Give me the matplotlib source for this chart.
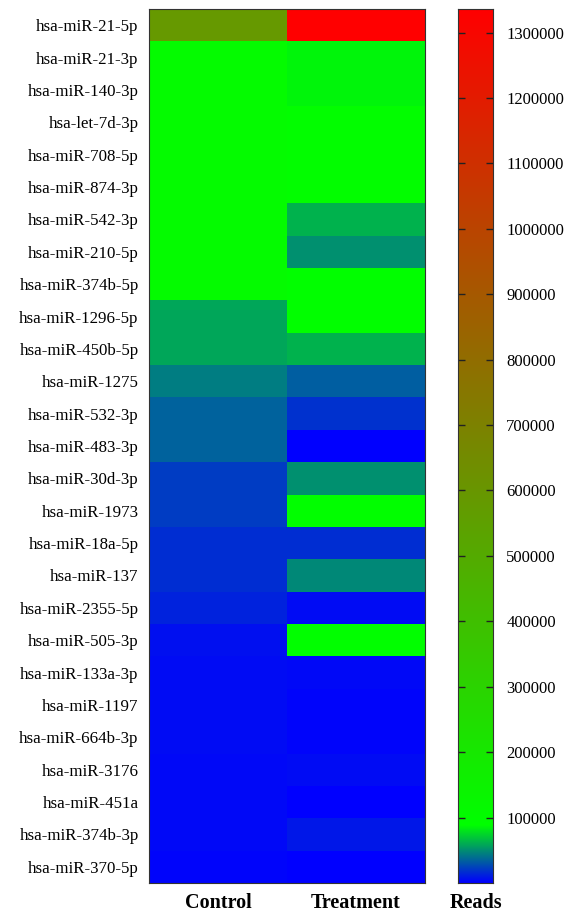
import numpy as np
import matplotlib.pyplot as plt
from matplotlib.colors import LinearSegmentedColormap, Normalize
from matplotlib.ticker import FixedLocator, FuncFormatter

plt.rcParams['font.family'] = ['Liberation Serif', 'DejaVu Serif']

mirnas = ['hsa-miR-21-5p', 'hsa-miR-21-3p', 'hsa-miR-140-3p', 'hsa-let-7d-3p',
          'hsa-miR-708-5p', 'hsa-miR-874-3p', 'hsa-miR-542-3p', 'hsa-miR-210-5p',
          'hsa-miR-374b-5p', 'hsa-miR-1296-5p', 'hsa-miR-450b-5p', 'hsa-miR-1275',
          'hsa-miR-532-3p', 'hsa-miR-483-3p', 'hsa-miR-30d-3p', 'hsa-miR-1973',
          'hsa-miR-18a-5p', 'hsa-miR-137', 'hsa-miR-2355-5p', 'hsa-miR-505-3p',
          'hsa-miR-133a-3p', 'hsa-miR-1197', 'hsa-miR-664b-3p', 'hsa-miR-3176',
          'hsa-miR-451a', 'hsa-miR-374b-3p', 'hsa-miR-370-5p']
groups = ['Control', 'Treatment']

control = [585000, 110000, 110000, 110000, 110000, 110000, 110000, 110000,
           110000, 58000, 58000, 44000, 34000, 34000, 22000, 22000,
           16000, 16000, 12000, 6000, 5000, 4500, 4500, 3500,
           3500, 3000, 2500]
treatment = [1335000, 85000, 85000, 100000, 100000, 100000, 62000, 50000,
             95000, 95000, 62000, 33000, 17000, 500, 50000, 95000,
             16000, 47000, 5000, 95000, 3000, 1500, 1500, 5000,
             1000, 8000, 1000]

cbar_ticks = [100000, 200000, 300000, 400000, 500000, 600000, 700000,
              800000, 900000, 1000000, 1100000, 1200000, 1300000]

vmin, vmax = 0, 1336000
cmap = LinearSegmentedColormap.from_list(
    'reads', [(0.0, '#0000ff'), (0.066, '#00ff00'), (1.0, '#ff0000')], N=1024)
norm = Normalize(vmin=vmin, vmax=vmax)

W, H = 571, 915
fig = plt.figure(figsize=(W / 100, H / 100), dpi=100)

ax = fig.add_axes([149 / W, (H - 883) / H, (425 - 149) / W, (883 - 9) / H])
data = np.column_stack([control, treatment])
ax.pcolormesh(np.arange(3), np.arange(len(mirnas) + 1), data, cmap=cmap, norm=norm)
ax.set_xlim(0, 2)
ax.set_ylim(len(mirnas), 0)
ax.set_yticks(np.arange(len(mirnas)) + 0.5)
ax.set_yticklabels(mirnas, fontsize=12.2)
ax.set_xticks(np.arange(2) + 0.5)
ax.set_xticklabels(groups, fontsize=14.5, fontweight='bold')
ax.tick_params(length=0)
ax.tick_params(axis='y', pad=7.5)
ax.tick_params(axis='x', pad=7)
for s in ax.spines.values():
    s.set_linewidth(0.8)
    s.set_color('#333333')

cax = fig.add_axes([458 / W, (H - 883) / H, (493 - 458) / W, (883 - 9) / H])
grad = np.linspace(vmin, vmax, 2000).reshape(-1, 1)
cax.imshow(grad, aspect='auto', cmap=cmap, norm=norm, origin='lower',
           extent=[0, 1, vmin, vmax], interpolation='bilinear')
cax.set_xticks([])
cax.yaxis.set_major_locator(FixedLocator(cbar_ticks))
cax.yaxis.set_major_formatter(FuncFormatter(lambda v, p: '%d' % v))
cax.yaxis.tick_right()
cax.tick_params(axis='y', direction='in', length=5, width=1.0, left=True, right=True,
                labelleft=False, labelright=True, labelsize=12, pad=9.5, color='#222222')
for s in cax.spines.values():
    s.set_linewidth(0.8)
    s.set_color('#333333')
cax.set_xlabel('Reads', fontsize=14.5, fontweight='bold', labelpad=7)

fig.savefig('out.png', dpi=100)
